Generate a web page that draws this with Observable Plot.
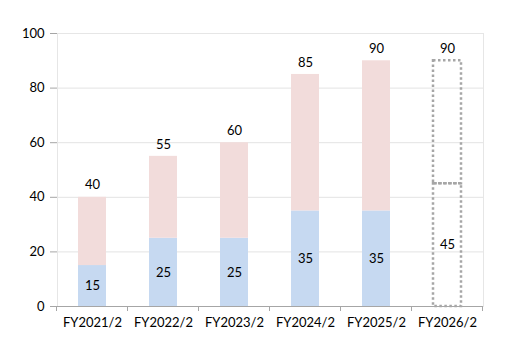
<!DOCTYPE html>
<html><head><meta charset="utf-8">
<script src="https://cdn.jsdelivr.net/npm/d3@7"></script>
<script src="https://cdn.jsdelivr.net/npm/@observablehq/plot@0.6"></script>
<style>
body{margin:0;background:#fff;font-family:Lato,"Open Sans",sans-serif;}
svg{font-family:Lato,"Open Sans",sans-serif;}
</style></head>
<body><div id="chart"></div>
<script>
const categories = ["FY2021/2","FY2022/2","FY2023/2","FY2024/2","FY2025/2","FY2026/2"];
const totals = [40,55,60,85,90,90];
const lower = [15,25,25,35,35,45];
const forecast = [false,false,false,false,false,true];
const yTicks = [0,20,40,60,80,100];

const rows = categories.map((c,i)=>({cat:c,total:totals[i],lower:lower[i],forecast:forecast[i]}));
const actual = rows.filter(d=>!d.forecast);
const fc = rows.filter(d=>d.forecast);

const chart = Plot.plot({
  width:520, height:362,
  marginLeft:57, marginRight:37, marginTop:33, marginBottom:56,
  style:{fontSize:"13px", color:"#000", background:"#fff"},
  x:{domain:categories, paddingInner:0.6, paddingOuter:0.3, label:null},
  y:{domain:[0,100], ticks:yTicks, label:null},
  marks:[
    Plot.gridY(yTicks,{stroke:"#e3e3e3", strokeOpacity:1}),
    Plot.frame({stroke:"#e6e6e6"}),
    Plot.barY(actual,{x:"cat", y1:0, y2:"lower", fill:"#c6d9f1"}),
    Plot.barY(actual,{x:"cat", y1:"lower", y2:"total", fill:"#f2dcdb"}),
    Plot.barY(fc,{x:"cat", y1:0, y2:"lower", fill:"none", stroke:"#a6a6a6", strokeWidth:2.5, strokeDasharray:"2.5,2.5"}),
    Plot.barY(fc,{x:"cat", y1:"lower", y2:"total", fill:"none", stroke:"#a6a6a6", strokeWidth:2.5, strokeDasharray:"2.5,2.5"}),
    Plot.text(rows,{x:"cat", y:"total", text:d=>String(d.total), dy:-12, fontSize:13, fill:"#000"}),
    Plot.text(rows,{x:"cat", y:d=>d.lower/2, text:d=>String(d.lower), fontSize:13, fill:"#000"}),
    Plot.axisY({ticks:yTicks, tickSize:7, tickPadding:6, stroke:"#a6a6a6", fontSize:13, fill:"#000"}),
    Plot.ruleY([0],{stroke:"#a6a6a6"}),
    Plot.ruleX([0],{x:()=>categories[0], stroke:"none"}),
    Plot.axisX({tickSize:0, tickPadding:11, fontSize:13, fill:"#000"})
  ]
});
document.getElementById("chart").appendChild(chart);

// band-boundary tick marks on the x axis, drawn from the plot's own x scale
const xs = chart.scale("x");
const svg = d3.select(chart);
const y0 = chart.scale("y").apply(0);
const bounds = categories.map(c=>xs.apply(c) - (xs.step - xs.bandwidth)/2);
bounds.push(xs.apply(categories[categories.length-1]) + xs.bandwidth + (xs.step - xs.bandwidth)/2);
svg.append("g").selectAll("line").data(bounds).join("line")
  .attr("x1",d=>d).attr("x2",d=>d).attr("y1",y0).attr("y2",y0+5)
  .attr("stroke","#a6a6a6");
</script>
</body></html>
